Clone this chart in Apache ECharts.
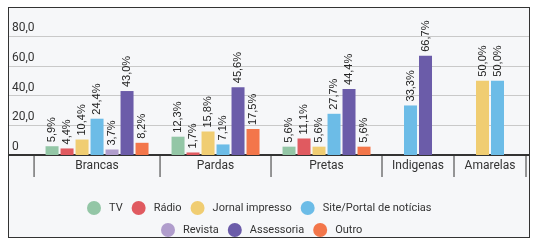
<!DOCTYPE html>
<html>
<head>
<meta charset="utf-8">
<script src="https://cdn.jsdelivr.net/npm/echarts@6/dist/echarts.min.js"></script>
<style>
  html, body { margin: 0; padding: 0; background: #fff; }
  #frame { position: absolute; left: 8px; top: 7px; width: 520px; height: 229px;
           border: 1.5px solid #333; background: #f6f7f9; }
  #chart { position: absolute; left: 0; top: 0; width: 537px; height: 244px; }
</style>
</head>
<body>
<div id="frame"></div>
<div id="chart"></div>
<script>
// grupos (raça/cor) e veículos
const categories = ['Brancas', 'Pardas', 'Pretas', 'Indigenas', 'Amarelas']
const seriesNames = ['TV', 'Rádio', 'Jornal impresso', 'Site/Portal de notícias', 'Revista', 'Assessoria', 'Outro']

// valores em %, null = sem barra
const tv = [5.9, 12.3, 5.6, null, null]
const radio = [4.4, 1.7, 11.1, null, null]
const jornal = [10.4, 15.8, 5.6, null, 50.0]
const site = [24.4, 7.1, 27.7, 33.3, 50.0]
const revista = [3.7, null, null, null, null]
const assessoria = [43.0, 45.6, 44.4, 66.7, null]
const outro = [8.2, 17.5, 5.6, null, null]

const yTicks = [0, 20, 40, 60, 80]

const colors = ['#93c6a6', '#e05a60', '#f0cd72', '#6cbce7', '#b09dcc', '#6b5ca9', '#f3764a']
const values = [tv, radio, jornal, site, revista, assessoria, outro]

// cada grupo ocupa so as barras que existem (eixo x em "slots" de barra)
const PAD = 1.4, MIN_W = 4.8
let cursor = 0
const groups = categories.map((name, g) => {
  const present = values.map((v, s) => v[g] == null ? -1 : s).filter(s => s >= 0)
  const w = Math.max(present.length + PAD, MIN_W)
  const pos = {}
  present.forEach((s, k) => { pos[s] = cursor + (w - present.length) / 2 + k + 0.5 })
  const grp = { name, start: cursor, end: cursor + w, pos }
  cursor += w
  return grp
})

const fmt = v => v.toFixed(1).replace('.', ',')

const barSeries = seriesNames.map((name, s) => ({
  name,
  type: 'bar',
  barWidth: 13,
  barGap: '-100%',
  itemStyle: { color: colors[s] },
  label: {
    show: true,
    position: 'top',
    rotate: 90,
    align: 'left',
    verticalAlign: 'middle',
    distance: 4,
    fontFamily: 'Liberation Sans',
    fontSize: 11,
    color: '#222',
    formatter: p => fmt(p.value[1]) + '%'
  },
  data: groups.filter(g => g.pos[s] != null).map((g, i) => [g.pos[s], values[s][categories.indexOf(g.name)]])
}))

const chart = echarts.init(document.getElementById('chart'))
chart.setOption({
  backgroundColor: 'transparent',
  animation: false,
  textStyle: { fontFamily: 'Roboto' },
  grid: { left: 9, right: 8, top: 36, bottom: 89 },
  legend: [{
    data: seriesNames.slice(0, 4),
    left: 82, top: 196,
    icon: 'circle', itemWidth: 14, itemHeight: 14, itemGap: 9,
    textStyle: { fontSize: 11, color: '#333', padding: [0, 0, 0, 3] }
  }, {
    data: seriesNames.slice(4),
    left: 156, top: 218,
    icon: 'circle', itemWidth: 14, itemHeight: 14, itemGap: 9,
    textStyle: { fontSize: 11, color: '#333', padding: [0, 0, 0, 3] }
  }],
  xAxis: {
    type: 'value',
    min: -1.67,
    max: 33,
    axisLine: { show: true, onZero: false, lineStyle: { color: '#333', width: 2 } },
    axisTick: { show: false },
    axisLabel: { show: false },
    splitLine: { show: false }
  },
  yAxis: {
    type: 'value',
    min: yTicks[0],
    max: yTicks[yTicks.length - 1],
    interval: 20,
    axisLine: { show: false },
    axisTick: { show: false },
    splitLine: { lineStyle: { color: '#c9c9c9' } },
    axisLabel: {
      inside: true,
      margin: 3,
      verticalAlign: 'bottom',
      padding: [0, 0, 2, 0],
      fontSize: 12,
      color: '#333',
      formatter: v => v === 0 ? '0' : fmt(v)
    }
  },
  series: barSeries.concat([{
    type: 'custom',
    clip: false,
    silent: true,
    data: groups.map(g => [g.start, g.end]),
    renderItem: (params, api) => {
      const a = api.coord([api.value(0), 0])
      const b = api.coord([api.value(1), 0])
      const children = [
        { type: 'line', shape: { x1: a[0], y1: a[1], x2: a[0], y2: a[1] + 22 }, style: { stroke: '#333', lineWidth: 1 } },
        { type: 'text', x: (a[0] + b[0]) / 2, y: a[1] + 11,
          style: { text: groups[params.dataIndex].name, fill: '#333', font: '12px Roboto', align: 'center', verticalAlign: 'middle' } }
      ]
      if (params.dataIndex === groups.length - 1) {
        children.push({ type: 'line', shape: { x1: b[0], y1: b[1], x2: b[0], y2: b[1] + 22 }, style: { stroke: '#333', lineWidth: 1 } })
      }
      return { type: 'group', children }
    }
  }])
})
</script>
</body>
</html>
